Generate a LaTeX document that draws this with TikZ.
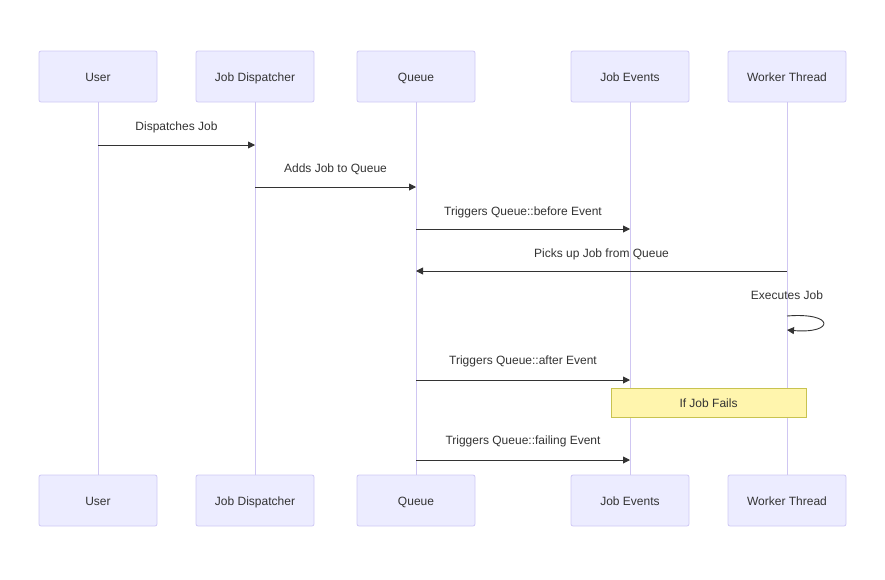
\documentclass[tikz,border=0pt]{standalone}
\usepackage{fontspec}
\setmainfont{Liberation Sans}
\usetikzlibrary{positioning, arrows.meta}
\definecolor{actfill}{HTML}{ECECFF}
\definecolor{actline}{HTML}{CFC8F5}
\definecolor{lifeline}{HTML}{CFC6F2}
\definecolor{notefill}{HTML}{FFF5AD}
\definecolor{noteline}{HTML}{C8C350}
\definecolor{ink}{HTML}{333333}
\begin{document}
\begin{tikzpicture}[x=1pt,y=-1pt,font=\fontsize{12}{14}\selectfont,
	actor/.style={draw=actline,line width=0.8pt,fill=actfill,rounded corners=2pt,minimum width=118pt,minimum height=51pt,text=ink,inner sep=0pt,text height=11pt,text depth=1.5pt},
	life/.style={draw=lifeline,line width=1pt},
	msg/.style={draw=ink,line width=0.9pt,-{Triangle[length=7pt,width=7pt]}},
	lbl/.style={text=ink,inner sep=0pt,anchor=base},
	notebox/.style={draw=noteline,fill=notefill,minimum width=195pt,minimum height=29pt,text=ink,inner sep=0pt,text height=11pt,text depth=1.5pt}]
	\useasboundingbox (0,0) rectangle (885,579);
	% actors, top row
	\node[actor] (u) at (98,76.5) {User};
	\node[actor] (d) at (255,76.5) {Job Dispatcher};
	\node[actor] (q) at (416,76.5) {Queue};
	\node[actor] (e) at (630,76.5) {Job Events};
	\node[actor] (w) at (787,76.5) {Worker Thread};
	% actors, bottom row
	\node[actor] (u2) at (98,500.5) {User};
	\node[actor] (d2) at (255,500.5) {Job Dispatcher};
	\node[actor] (q2) at (416,500.5) {Queue};
	\node[actor] (e2) at (630,500.5) {Job Events};
	\node[actor] (w2) at (787,500.5) {Worker Thread};
	% lifelines
	\draw[life] (u) -- (u2);
	\draw[life] (d) -- (d2);
	\draw[life] (q) -- (q2);
	\draw[life] (e) -- (e2);
	\draw[life] (w) -- (w2);
	% message anchors
	\coordinate (m1a) at (98,145);  \coordinate (m1b) at (255,145);
	\coordinate (m2a) at (255,187); \coordinate (m2b) at (416,187);
	\coordinate (m3a) at (416,229); \coordinate (m3b) at (630,229);
	\coordinate (m4a) at (787,271); \coordinate (m4b) at (416,271);
	\coordinate (m5a) at (787,316); \coordinate (m5b) at (787,330);
	\coordinate (m6a) at (416,380); \coordinate (m6b) at (630,380);
	\coordinate (m7a) at (416,460); \coordinate (m7b) at (630,460);
	% messages
	\draw[msg] (m1a) -- (m1b);
	\node[lbl] (t1) at (176.5,130) {Dispatches Job};
	\draw[msg] (m2a) -- (m2b);
	\node[lbl] (t2) at (335.5,172) {Adds Job to Queue};
	\draw[msg] (m3a) -- (m3b);
	\node[lbl] (t3) at (523,215) {Triggers Queue::before Event};
	\draw[msg] (m4a) -- (m4b);
	\node[lbl] (t4) at (601.5,257) {Picks up Job from Queue};
	\draw[msg] (m5a) .. controls (835,312) and (835,334) .. (m5b);
	\node[lbl] (t5) at (787,299) {Executes Job};
	\draw[msg] (m6a) -- (m6b);
	\node[lbl] (t6) at (523,364) {Triggers Queue::after Event};
	\node[notebox] (n1) at (708.5,402.5) {If Job Fails};
	\draw[msg] (m7a) -- (m7b);
	\node[lbl] (t7) at (523,444) {Triggers Queue::failing Event};
\end{tikzpicture}
\end{document}
